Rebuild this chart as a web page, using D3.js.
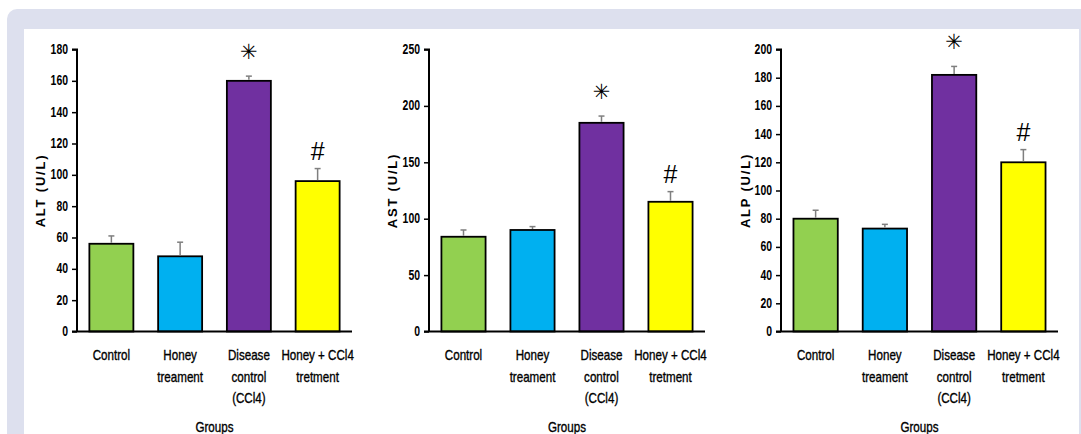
<!DOCTYPE html>
<html><head><meta charset="utf-8">
<script src="https://cdn.jsdelivr.net/npm/d3@7"></script>
<style>
html,body{margin:0;padding:0;background:#fff;}
svg{display:block;}
.tk{font-family:"Liberation Sans",Arial,sans-serif;font-weight:bold;font-size:14.5px;fill:#000;}
.cat{font-family:"Liberation Sans",Arial,sans-serif;font-size:14.5px;fill:#000;stroke:#000;stroke-width:0.35px;}
.ytitle{font-family:"Liberation Sans",Arial,sans-serif;font-weight:bold;font-size:13px;letter-spacing:1.8px;fill:#000;}
</style></head>
<body>
<svg id="chart" width="1081" height="434"></svg>
<script>
// ---- data ----
const categories = ["Control", "Honey treament", "Disease control (CCl4)", "Honey + CCl4 tretment"];
const categoryLines = [["Control"], ["Honey", "treament"], ["Disease", "control", "(CCl4)"], ["Honey + CCl4", "tretment"]];
const colors = ["#92d050", "#00b0f0", "#7030a0", "#ffff00"];
const marks = ["", "", "\u2733\uFE0E", "#"];
const altValues = [56, 48, 160, 96];
const altErrors = [5, 9, 3, 8];
const astValues = [84, 90, 185, 115];
const astErrors = [6, 3, 6, 9];
const alpValues = [80, 73, 182, 120];
const alpErrors = [6, 3, 6, 9];
const altTicks = [0, 20, 40, 60, 80, 100, 120, 140, 160, 180];
const astTicks = [0, 50, 100, 150, 200, 250];
const alpTicks = [0, 20, 40, 60, 80, 100, 120, 140, 160, 180, 200];
const xTitle = "Groups";

const svg = d3.select("#chart");
// panel background
svg.append("rect").attr("x", 7).attr("y", 9).attr("width", 1090).attr("height", 450).attr("rx", 10).attr("fill", "#dde0ee");
svg.append("rect").attr("x", 24).attr("y", 29).attr("width", 1055).attr("height", 430).attr("fill", "#fff");

function narrow(parent, cls, x, y, txt, anchor, k) {
  parent.append("g").attr("transform", `translate(${x},${y}) scale(${k},1)`)
    .append("text").attr("class", cls).attr("text-anchor", anchor)
    .attr("dominant-baseline", "central").text(txt);
}

const panels = [
  {values: altValues, errors: altErrors, ticks: altTicks, title: "ALT (U/L)", x0: 77, x1: 352, tx: 40},
  {values: astValues, errors: astErrors, ticks: astTicks, title: "AST (U/L)", x0: 429, x1: 705, tx: 392},
  {values: alpValues, errors: alpErrors, ticks: alpTicks, title: "ALP (U/L)", x0: 781, x1: 1058, tx: 745}
];
const yTop = 49.5, yBot = 331.5;

panels.forEach(p => {
  const g = svg.append("g");
  const x = d3.scaleBand().domain(categories).range([p.x0, p.x1]).paddingInner(0.36).paddingOuter(0.18);
  const y = d3.scaleLinear().domain([0, d3.max(p.ticks)]).range([yBot, yTop]);

  // bars
  g.selectAll("rect.bar").data(categories).join("rect")
    .attr("x", d => x(d)).attr("width", x.bandwidth())
    .attr("y", (d, i) => y(p.values[i])).attr("height", (d, i) => yBot - y(p.values[i]))
    .attr("fill", (d, i) => colors[i]).attr("stroke", "#000").attr("stroke-width", 1.8);

  // error bars (upper)
  categories.forEach((c, i) => {
    const cx = x(c) + x.bandwidth() / 2;
    const yt = y(p.values[i] + p.errors[i]);
    g.append("line").attr("x1", cx).attr("x2", cx).attr("y1", y(p.values[i]) - 1).attr("y2", yt)
      .attr("stroke", "#7f7f7f").attr("stroke-width", 1.5);
    g.append("line").attr("x1", cx - 3).attr("x2", cx + 3).attr("y1", yt).attr("y2", yt)
      .attr("stroke", "#7f7f7f").attr("stroke-width", 1.5);
    if (marks[i]) {
      const isStar = marks[i] !== "#";
      g.append("text").attr("x", cx).attr("y", yt - (isStar ? 24 : 18))
        .attr("text-anchor", "middle").attr("dominant-baseline", "central")
        .style("font-family", isStar ? "DejaVu Sans, sans-serif" : "Liberation Sans, Arial, sans-serif")
        .style("font-size", isStar ? "21px" : "25px")
        .text(marks[i]);
    }
  });

  // y axis
  const ya = g.append("g").attr("transform", `translate(${p.x0},0)`)
    .call(d3.axisLeft(y).tickValues(p.ticks).tickSize(5).tickFormat(""));
  ya.select(".domain").attr("stroke", "#000").attr("stroke-width", 2).attr("d", `M-5,${yTop}H0V${yBot}`);
  ya.selectAll(".tick line").attr("stroke", "#000").attr("stroke-width", 1.5);
  p.ticks.forEach(t => narrow(g, "tk", p.x0 - 9, y(t), d3.format("d")(t), "end", 0.72));

  // x axis line
  g.append("line").attr("x1", p.x0 - 5).attr("x2", p.x1).attr("y1", yBot).attr("y2", yBot)
    .attr("stroke", "#000").attr("stroke-width", 2);

  // category labels
  categories.forEach((c, i) => {
    const cx = x(c) + x.bandwidth() / 2;
    categoryLines[i].forEach((ln, k) => narrow(g, "cat", cx, 355.5 + k * 21.5, ln, "middle", 0.8));
  });

  // axis titles
  narrow(g, "cat", (p.x0 + p.x1) / 2, 427, xTitle, "middle", 0.8);
  g.append("text").attr("class", "ytitle").attr("text-anchor", "middle").attr("dominant-baseline", "central")
    .attr("transform", `translate(${p.tx},${(yTop + yBot) / 2}) rotate(-90)`).text(p.title);
});
</script>
</body></html>
